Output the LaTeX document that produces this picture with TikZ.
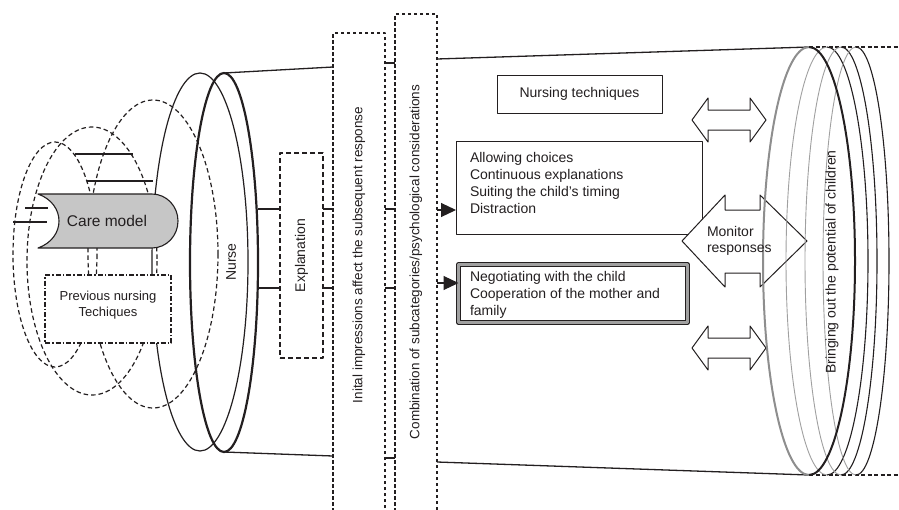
\documentclass[tikz,border=0pt]{standalone}
\usepackage{fontspec}
\setmainfont{Liberation Sans}
\usetikzlibrary{arrows.meta,shapes.geometric,calc}
\definecolor{ink}{HTML}{231F20}
\definecolor{cmgrey}{HTML}{C6C6C6}
\definecolor{backgrey}{HTML}{8E8E8E}
\definecolor{lightback}{HTML}{A0A0A0}
\begin{document}
\begin{tikzpicture}[x=1pt,y=-1pt,line join=round,
  every node/.style={text=ink,inner sep=0pt,outer sep=0pt,font=\fontsize{14}{17}\selectfont},
  thinln/.style={draw=ink,line width=1pt},
  medln/.style={draw=ink,line width=1.3pt},
  elldash/.style={draw=ink,line width=1.2pt,dash pattern=on 4.5pt off 3pt},
  boxdash/.style={draw=ink,line width=1.2pt,dash pattern=on 5pt off 3pt,rectangle,fill=white},
  talldash/.style={draw=ink,line width=1.1pt,dash pattern=on 3.5pt off 2.5pt,rectangle},
  dashdotbox/.style={draw=ink,line width=1.3pt,dash pattern=on 5pt off 2pt on 1.5pt off 2pt,rectangle,fill=white},
  plainbox/.style={draw=ink,line width=1pt,rectangle,fill=white},
  dblbox/.style={draw=ink,line width=1.2pt,double=lightback,double distance=2.4pt,rectangle},
  fatarrow/.style={draw=ink,line width=1pt,fill=white},
  pointer/.style={draw=ink,line width=1.1pt,-{Triangle[length=15pt,width=14pt]}}
]
\useasboundingbox (0,0) rectangle (899,509);
\fill[white] (0,0) rectangle (899,509);
\clip (0,0) rectangle (899,509);

% left dashed ellipses
\draw[elldash] (55,254.5) ellipse [x radius=42, y radius=112.5];
\draw[elldash] (92,261) ellipse [x radius=65, y radius=134];
\draw[elldash] (153,254) ellipse [x radius=65, y radius=154];

% nurse ellipses
\node[ellipse,draw=ink,line width=1.2pt,minimum width=96pt,minimum height=378pt] (n1) at (200,262) {};
\node[ellipse,draw=ink,line width=2.2pt,minimum width=68pt,minimum height=379pt] (n2) at (224,262.5) {};
\node[rotate=90] (nursetxt) at (231,262) {Nurse};

% small connectors near care model
\coordinate (a1) at (75,154); \coordinate (a2) at (133,154);
\coordinate (b1) at (87,181); \coordinate (b2) at (153,181);
\coordinate (c1) at (25,208); \coordinate (c2) at (48,208);
\coordinate (d1) at (13,222); \coordinate (d2) at (47,222);
\draw[medln] (a1) -- (a2);
\draw[medln] (b1) -- (b2);
\draw[medln] (c1) -- (c2);
\draw[medln] (d1) -- (d2);

% care model shape
\draw[draw=ink,line width=1.1pt,fill=cmgrey] (38,194) -- (152,194)
  arc[start angle=-90,end angle=90,x radius=26,y radius=27] -- (38,248)
  .. controls (66,238) and (66,204) .. (38,194) -- cycle;
\node[font=\fontsize{15.5}{18}\selectfont] (care) at (107,221) {Care model};

% previous nursing box
\node[dashdotbox,minimum width=126pt,minimum height=68pt] (prev) at (108,309) {};
\node[align=center,font=\fontsize{13}{16}\selectfont] (prevtxt) at (108,305.5) {Previous nursing\\Techiques};

% explanation box
\node[boxdash,minimum width=43pt,minimum height=205pt] (expl) at (301.5,255.5) {};
\node[rotate=90] (expltxt) at (expl.center) {Explanation};
\draw[medln] (n2.east |- 0,209) -- (expl.west |- 0,209);
\draw[medln] (n2.east |- 0,288) -- (expl.west |- 0,288);

% tall boxes
\node[talldash,minimum width=52pt,minimum height=507pt] (init) at (359,286.5) {};
\node[rotate=90,font=\fontsize{13.5}{16}\selectfont] (inittxt) at (359,255) {Inital impressions affect the subsequent response};
\node[talldash,minimum width=42pt,minimum height=526pt] (comb) at (416,277) {};
\node[rotate=90,font=\fontsize{13.5}{16}\selectfont] (combtxt) at (416,262) {Combination of subcategories/psychological considerations};

\draw[medln] (expl.east |- 0,209) -- (init.west |- 0,209);
\draw[medln] (expl.east |- 0,288) -- (init.west |- 0,288);
\draw[medln] (n2.north) -- (init.west |- 0,67);
\draw[medln] (n2.south) -- (init.west |- 0,456);
\foreach \yy in {63,209,288,458} {
  \draw[medln] (init.east |- 0,\yy) -- (comb.west |- 0,\yy);
}

% right ellipse anchor node (shape only)
\node[ellipse,minimum width=92pt,minimum height=428pt] (r1) at (809,261) {};
\coordinate (etop) at (899,47);
\coordinate (ebot) at (899,475);
\draw[medln] (comb.east |- 0,59) -- (r1.north);
\draw[medln] (comb.east |- 0,462) -- (r1.south);
\draw[draw=ink,line width=1.1pt,dash pattern=on 4pt off 2.5pt] (r1.north) -- (etop);
\draw[draw=ink,line width=1.1pt,dash pattern=on 4pt off 2.5pt] (r1.south) -- (ebot);

% boxes on the right
\node[plainbox,minimum width=165pt,minimum height=38pt] (nt) at (579.5,94) {Nursing techniques};
\node[plainbox,minimum width=246pt,minimum height=93pt] (ac) at (579,187.5) {};
\node[anchor=west,align=left] (actxt) at (470,182.5) {Allowing choices\\Continuous explanations\\Suiting the child’s timing\\Distraction};
\node[dblbox,minimum width=229pt,minimum height=58pt] (ng) at (573,293.5) {};
\node[anchor=west,align=left] (ngtxt) at (470,295) {Negotiating with the child\\Cooperation of the mother and\\family};

\draw[pointer] (comb.east |- 0,210) -- (ac.west |- 0,210);
\draw[pointer] (comb.east |- 0,283) -- (ng.west |- 0,283);

% double arrows
\draw[fatarrow] (692,120) -- (708,98) -- (708,110) -- (750,110) -- (750,98) -- (766,120)
  -- (750,142) -- (750,130) -- (708,130) -- (708,142) -- cycle;
\draw[fatarrow] (692,348) -- (708,326) -- (708,338) -- (750,338) -- (750,326) -- (766,348)
  -- (750,370) -- (750,358) -- (708,358) -- (708,370) -- cycle;
\draw[fatarrow] (682,241) -- (725,195) -- (725,210) -- (760,210) -- (760,195) -- (807,241)
  -- (760,287) -- (760,273) -- (725,273) -- (725,287) -- cycle;

% right ellipses: back halves grey, front halves black
\draw[backgrey,line width=2pt] (809,475) arc[start angle=90,end angle=270,x radius=46,y radius=214];
\foreach \cx/\rx in {827/41,841/36,856/33} {
  \draw[lightback,line width=0.9pt] (\cx,475) arc[start angle=90,end angle=270,x radius=\rx,y radius=214];
  \draw[ink,line width=1.1pt] (\cx,47) arc[start angle=-90,end angle=90,x radius=\rx,y radius=214];
}
\draw[ink,line width=2pt] (809,47) arc[start angle=-90,end angle=90,x radius=46,y radius=214];

\node[anchor=west,align=left,font=\fontsize{14}{16}\selectfont] (montxt) at (707,241) {Monitor\\responses};
\node[rotate=90] (bringtxt) at (832,262) {Bringing out the potential of children};
\end{tikzpicture}
\end{document}
